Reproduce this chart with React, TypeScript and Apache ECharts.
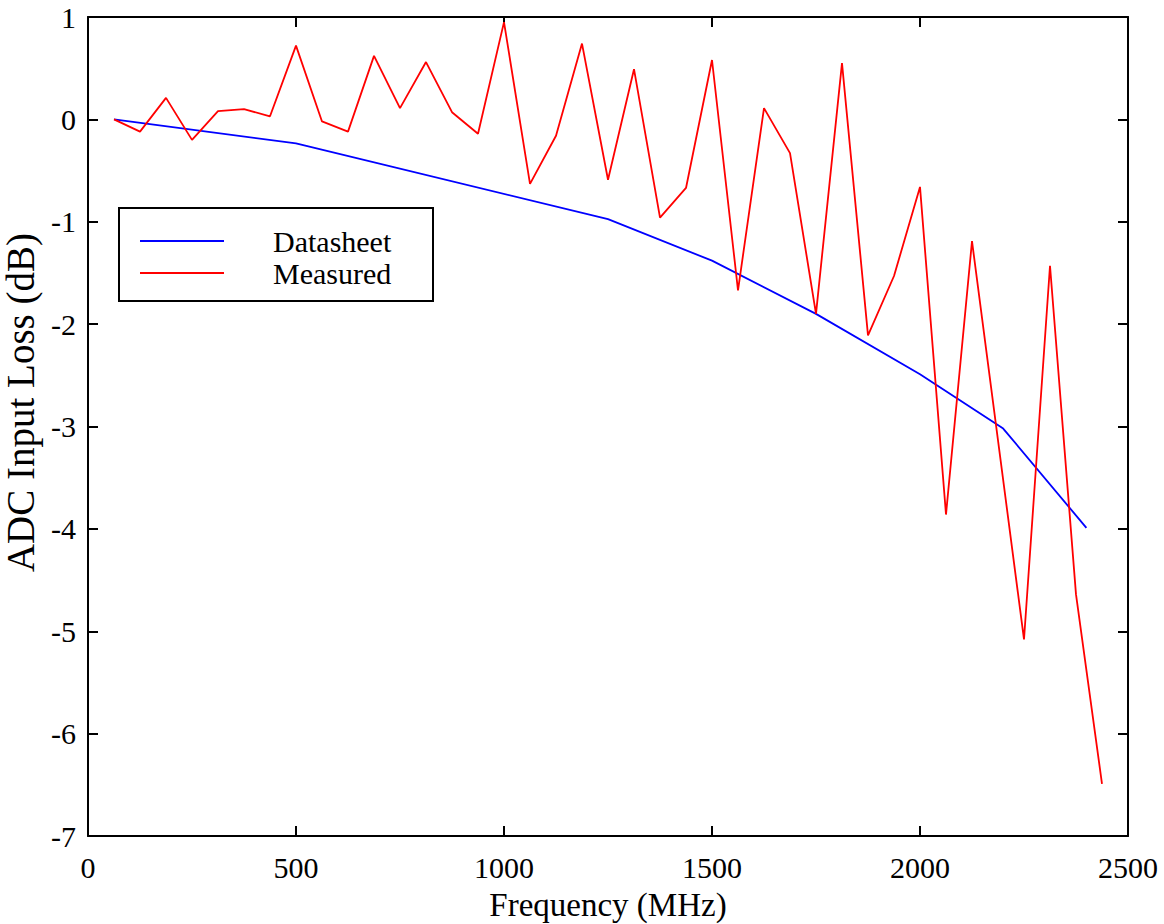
import React, { useEffect, useRef } from "react";
import * as echarts from "echarts";

const xTicks = [0, 500, 1000, 1500, 2000, 2500];
const yTicks = [-7, -6, -5, -4, -3, -2, -1, 0, 1];

const measuredFreq = [
  62.5, 125, 187.5, 250, 312.5, 375, 437.5, 500, 562.5, 625, 687.5, 750, 812.5,
  875, 937.5, 1000, 1062.5, 1125, 1187.5, 1250, 1312.5, 1375, 1437.5, 1500,
  1562.5, 1625, 1687.5, 1750, 1812.5, 1875, 1937.5, 2000, 2062.5, 2125, 2250,
  2312.5, 2375, 2437.5,
];
const measuredLoss = [
  0, -0.12, 0.21, -0.2, 0.08, 0.1, 0.03, 0.72, -0.02, -0.12, 0.62, 0.11, 0.56,
  0.07, -0.14, 0.95, -0.63, -0.16, 0.74, -0.59, 0.49, -0.96, -0.67, 0.58,
  -1.67, 0.11, -0.33, -1.9, 0.55, -2.11, -1.53, -0.66, -3.86, -1.19, -5.08,
  -1.43, -4.64, -6.49,
];

const datasheetFreq = [62.5, 500, 1250, 1500, 1750, 2000, 2200, 2400];
const datasheetLoss = [0, -0.235, -0.975, -1.38, -1.9, -2.49, -3.02, -3.99];

const FONT = "'Liberation Serif', 'Times New Roman', serif";

export default function App() {
  const ref = useRef<HTMLDivElement>(null);
  useEffect(() => {
    if (!ref.current) return;
    const chart = echarts.init(ref.current, null, { renderer: "svg" });
    const axisLine = { show: true, onZero: false, lineStyle: { color: "#000", width: 2 } };
    const axisTick = { show: true, inside: true, length: 10, lineStyle: { color: "#000", width: 2 } };
    const xBase = { type: "value", min: xTicks[0], max: xTicks[xTicks.length - 1], interval: 500, splitLine: { show: false }, axisLine, axisTick };
    const yBase = { type: "value", min: yTicks[0], max: yTicks[yTicks.length - 1], interval: 1, splitLine: { show: false }, axisLine, axisTick };
    chart.setOption({
      animation: false,
      backgroundColor: "#fff",
      grid: { left: 88, right: 36, top: 17, bottom: 88, containLabel: false, outerBoundsMode: "none" },
      xAxis: [
        {
          ...xBase,
          position: "bottom",
          axisLabel: { color: "#000", fontFamily: FONT, fontSize: 30, margin: 16, formatter: (v: number) => String(v) },
          name: "Frequency (MHz)",
          nameLocation: "middle",
          nameGap: 52,
          nameTextStyle: { color: "#000", fontFamily: FONT, fontSize: 33 },
        },
        { ...xBase, position: "top", axisLabel: { show: false } },
      ],
      yAxis: [
        {
          ...yBase,
          position: "left",
          axisLabel: { color: "#000", fontFamily: FONT, fontSize: 30, margin: 12, formatter: (v: number) => String(v) },
          name: "ADC Input Loss (dB)",
          nameLocation: "middle",
          nameRotate: 90,
          nameGap: 48,
          nameTextStyle: { color: "#000", fontFamily: FONT, fontSize: 39, padding: [0, 0, 0, 48] },
        },
        { ...yBase, position: "right", axisLabel: { show: false } },
      ],
      legend: {
        left: 119,
        top: 208,
        orient: "vertical",
        icon: "rect",
        itemWidth: 84,
        itemHeight: 2,
        itemGap: 0,
        padding: [17, 18, 12, 21],
        borderColor: "#000",
        borderWidth: 2,
        borderRadius: 0,
        backgroundColor: "#fff",
        textStyle: { color: "#000", fontFamily: FONT, fontSize: 30, lineHeight: 32, padding: [0, 0, 0, 44], width: 142 },
        data: ["Datasheet", "Measured"],
      },
      series: [
        {
          name: "Datasheet",
          type: "line",
          symbol: "none",
          color: "#0000ff",
          lineStyle: { color: "#0000ff", width: 1.8 },
          data: datasheetFreq.map((f, i) => [f, datasheetLoss[i]]),
        },
        {
          name: "Measured",
          type: "line",
          symbol: "none",
          color: "#ff0000",
          lineStyle: { color: "#ff0000", width: 1.8 },
          data: measuredFreq.map((f, i) => [f, measuredLoss[i]]),
        },
      ],
    });
    return () => chart.dispose();
  }, []);
  return <div ref={ref} style={{ position: "fixed", left: 0, top: 0, width: 1164, height: 924 }} />;
}
